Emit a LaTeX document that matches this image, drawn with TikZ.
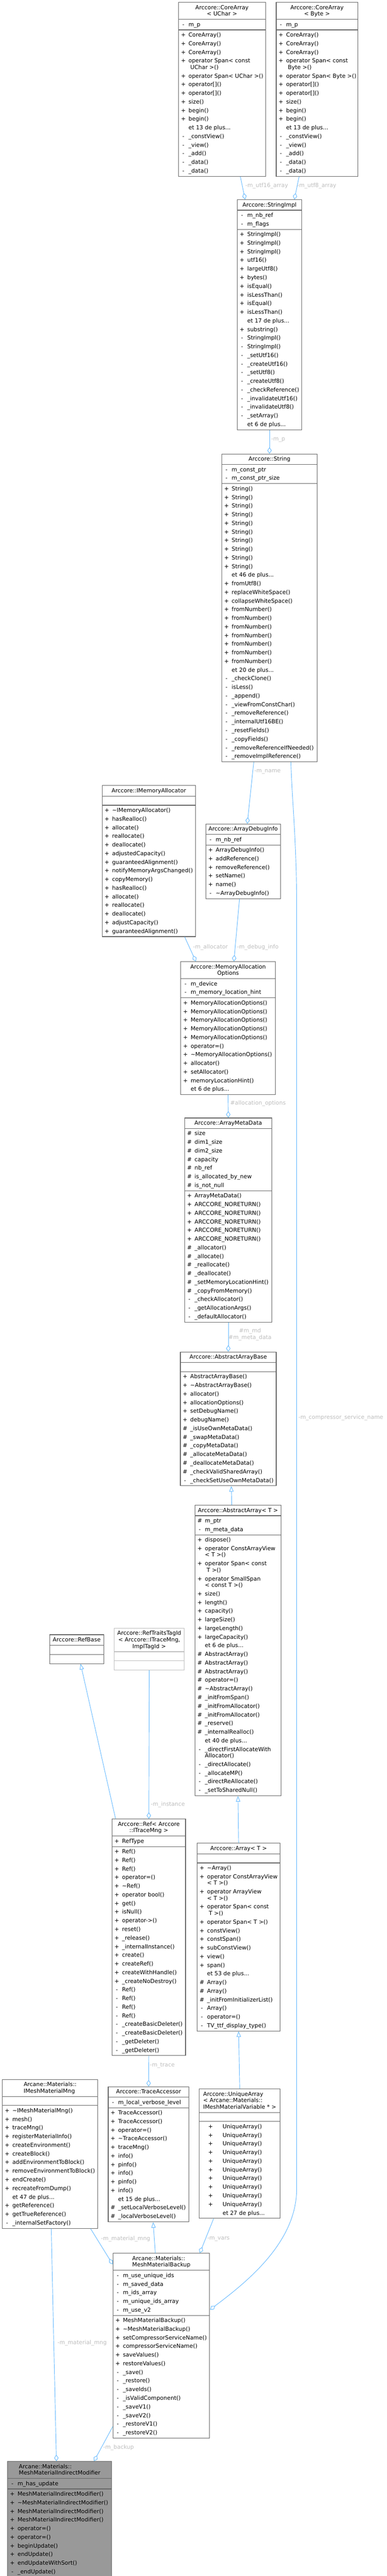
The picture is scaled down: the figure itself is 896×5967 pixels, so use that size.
\documentclass[tikz,border=0pt]{standalone}
\usepackage{fontspec}
\setmainfont{DejaVu Sans}
\usepackage{tikz}
\usetikzlibrary{arrows.meta}
\usetikzlibrary{shapes.multipart}

\definecolor{edgeblue}{HTML}{63B8FF}
\definecolor{boxgray}{HTML}{666666}
\definecolor{lblgray}{HTML}{BEBEBE}
\definecolor{fillgray}{HTML}{999999}
\definecolor{lightframe}{HTML}{BFBFBF}

\renewcommand{\arraystretch}{0}
\newcommand{\lnst}{\rule[-6pt]{0pt}{20pt}}
\newcommand{\cnst}{\rule[-6pt]{0pt}{15pt}}
\newcommand{\mem}[2]{\lnst\makebox[18pt][c]{#1}\hspace{3pt}#2}
\newcommand{\memw}[2]{\lnst\makebox[48pt][c]{#1}\hspace{4pt}#2}
\newcommand{\cont}[1]{\cnst\hspace{21pt}\smash{#1}}
\newcommand{\more}[1]{\lnst\hspace{21pt}et #1 de plus...}
\newcommand{\hd}[1]{\lnst #1}
\newcommand{\hc}[1]{\cnst\smash{#1}}
\newcommand{\emptypart}{\rule{0pt}{17pt}}
\newcommand{\rows}[1]{\begin{tabular}{@{}l@{}}#1\end{tabular}}
\newcommand{\hrows}[1]{\begin{tabular}{@{}c@{}}#1\end{tabular}}

\tikzset{
    cls/.style={rectangle split, rectangle split parts=3,
        rectangle split part align={center,left,left},
        draw=boxgray, line width=1.3pt, fill=white, text=black,
        inner xsep=2pt, inner ysep=1.5pt, anchor=north west,
        font=\fontsize{13pt}{20pt}\selectfont},
    agg/.style={draw=edgeblue, line width=1.1pt, -{Diamond[open,length=15pt,width=10pt]}},
    inh/.style={draw=edgeblue, line width=1.1pt, -{Triangle[open,length=13pt,width=10pt]}},
    lbl/.style={text=lblgray, inner sep=0pt, anchor=west,
        font=\fontsize{13pt}{15pt}\selectfont}
}

\begin{document}
\begin{tikzpicture}[x=1pt,y=-1pt]
        \useasboundingbox (0,0) rectangle (896,5967);

        \node[cls, minimum width=201pt] (coreuchar) at (413,5)
            {\hrows{\hd{Arccore::CoreArray}\\\hc{< UChar >}}
            \nodepart{two}\rows{\mem{-}{m\_p}}
            \nodepart{three}\rows{\mem{+}{CoreArray()}\\\mem{+}{CoreArray()}\\\mem{+}{CoreArray()}\\\mem{+}{operator Span< const}\\\cont{\ UChar >()}\\\mem{+}{operator Span< UChar >()}\\\mem{+}{operator[]()}\\\mem{+}{operator[]()}\\\mem{+}{size()}\\\mem{+}{begin()}\\\mem{+}{begin()}\\\more{13}\\\mem{-}{\_constView()}\\\mem{-}{\_view()}\\\mem{-}{\_add()}\\\mem{-}{\_data()}\\\mem{-}{\_data()}}};
        \node[cls, minimum width=189pt] (corebyte) at (639,5)
            {\hrows{\hd{Arccore::CoreArray}\\\hc{< Byte >}}
            \nodepart{two}\rows{\mem{-}{m\_p}}
            \nodepart{three}\rows{\mem{+}{CoreArray()}\\\mem{+}{CoreArray()}\\\mem{+}{CoreArray()}\\\mem{+}{operator Span< const}\\\cont{\ Byte >()}\\\mem{+}{operator Span< Byte >()}\\\mem{+}{operator[]()}\\\mem{+}{operator[]()}\\\mem{+}{size()}\\\mem{+}{begin()}\\\mem{+}{begin()}\\\more{13}\\\mem{-}{\_constView()}\\\mem{-}{\_view()}\\\mem{-}{\_add()}\\\mem{-}{\_data()}\\\mem{-}{\_data()}}};
        \node[cls, minimum width=149pt] (stringimpl) at (549,462)
            {\hrows{\hd{Arccore::StringImpl}}
            \nodepart{two}\rows{\mem{-}{m\_nb\_ref}\\\mem{-}{m\_flags}}
            \nodepart{three}\rows{\mem{+}{StringImpl()}\\\mem{+}{StringImpl()}\\\mem{+}{StringImpl()}\\\mem{+}{utf16()}\\\mem{+}{largeUtf8()}\\\mem{+}{bytes()}\\\mem{+}{isEqual()}\\\mem{+}{isLessThan()}\\\mem{+}{isEqual()}\\\mem{+}{isLessThan()}\\\more{17}\\\mem{+}{substring()}\\\mem{-}{StringImpl()}\\\mem{-}{StringImpl()}\\\mem{-}{\_setUtf16()}\\\mem{-}{\_createUtf16()}\\\mem{-}{\_setUtf8()}\\\mem{-}{\_createUtf8()}\\\mem{-}{\_checkReference()}\\\mem{-}{\_invalidateUtf16()}\\\mem{-}{\_invalidateUtf8()}\\\mem{-}{\_setArray()}\\\more{6}}};
        \node[cls, minimum width=221pt] (string) at (513,1051)
            {\hrows{\hd{Arccore::String}}
            \nodepart{two}\rows{\mem{-}{m\_const\_ptr}\\\mem{-}{m\_const\_ptr\_size}}
            \nodepart{three}\rows{\mem{+}{String()}\\\mem{+}{String()}\\\mem{+}{String()}\\\mem{+}{String()}\\\mem{+}{String()}\\\mem{+}{String()}\\\mem{+}{String()}\\\mem{+}{String()}\\\mem{+}{String()}\\\mem{+}{String()}\\\more{46}\\\mem{+}{fromUtf8()}\\\mem{+}{replaceWhiteSpace()}\\\mem{+}{collapseWhiteSpace()}\\\mem{+}{fromNumber()}\\\mem{+}{fromNumber()}\\\mem{+}{fromNumber()}\\\mem{+}{fromNumber()}\\\mem{+}{fromNumber()}\\\mem{+}{fromNumber()}\\\mem{+}{fromNumber()}\\\more{20}\\\mem{-}{\_checkClone()}\\\mem{-}{isLess()}\\\mem{-}{\_append()}\\\mem{-}{\_viewFromConstChar()}\\\mem{-}{\_removeReference()}\\\mem{-}{\_internalUtf16BE()}\\\mem{-}{\_resetFields()}\\\mem{-}{\_copyFields()}\\\mem{-}{\_removeReferenceIfNeeded()}\\\mem{-}{\_removeImplReference()}}};
        \node[cls, minimum width=216pt] (imemalloc) at (236,1819)
            {\hrows{\hd{Arccore::IMemoryAllocator}}
            \nodepart{two}\emptypart
            \nodepart{three}\rows{\mem{+}{\textasciitilde IMemoryAllocator()}\\\mem{+}{hasRealloc()}\\\mem{+}{allocate()}\\\mem{+}{reallocate()}\\\mem{+}{deallocate()}\\\mem{+}{adjustedCapacity()}\\\mem{+}{guaranteedAlignment()}\\\mem{+}{notifyMemoryArgsChanged()}\\\mem{+}{copyMemory()}\\\mem{+}{hasRealloc()}\\\mem{+}{allocate()}\\\mem{+}{reallocate()}\\\mem{+}{deallocate()}\\\mem{+}{adjustCapacity()}\\\mem{+}{guaranteedAlignment()}}};
        \node[cls, minimum width=173pt] (debuginfo) at (476,1908)
            {\hrows{\hd{Arccore::ArrayDebugInfo}}
            \nodepart{two}\rows{\mem{-}{m\_nb\_ref}}
            \nodepart{three}\rows{\mem{+}{ArrayDebugInfo()}\\\mem{+}{addReference()}\\\mem{+}{removeReference()}\\\mem{+}{setName()}\\\mem{+}{name()}\\\mem{-}{\textasciitilde ArrayDebugInfo()}}};
        \node[cls, minimum width=219pt] (allocopts) at (418,2227)
            {\hrows{\hd{Arccore::MemoryAllocation}\\\hc{Options}}
            \nodepart{two}\rows{\mem{-}{m\_device}\\\mem{-}{m\_memory\_location\_hint}}
            \nodepart{three}\rows{\mem{+}{MemoryAllocationOptions()}\\\mem{+}{MemoryAllocationOptions()}\\\mem{+}{MemoryAllocationOptions()}\\\mem{+}{MemoryAllocationOptions()}\\\mem{+}{MemoryAllocationOptions()}\\\mem{+}{operator=()}\\\mem{+}{\textasciitilde MemoryAllocationOptions()}\\\mem{+}{allocator()}\\\mem{+}{setAllocator()}\\\mem{+}{memoryLocationHint()}\\\more{6}}};
        \node[cls, minimum width=202pt] (metadata) at (427,2589)
            {\hrows{\hd{Arccore::ArrayMetaData}}
            \nodepart{two}\rows{\mem{\#}{size}\\\mem{\#}{dim1\_size}\\\mem{\#}{dim2\_size}\\\mem{\#}{capacity}\\\mem{\#}{nb\_ref}\\\mem{\#}{is\_allocated\_by\_new}\\\mem{\#}{is\_not\_null}}
            \nodepart{three}\rows{\mem{+}{ArrayMetaData()}\\\mem{+}{ARCCORE\_NORETURN()}\\\mem{+}{ARCCORE\_NORETURN()}\\\mem{+}{ARCCORE\_NORETURN()}\\\mem{+}{ARCCORE\_NORETURN()}\\\mem{+}{ARCCORE\_NORETURN()}\\\mem{\#}{\_allocator()}\\\mem{\#}{\_allocate()}\\\mem{\#}{\_reallocate()}\\\mem{\#}{\_deallocate()}\\\mem{\#}{\_setMemoryLocationHint()}\\\mem{\#}{\_copyFromMemory()}\\\mem{-}{\_checkAllocator()}\\\mem{-}{\_getAllocationArgs()}\\\mem{-}{\_defaultAllocator()}}};
        \node[cls, minimum width=222pt] (arraybase) at (417,3131)
            {\hrows{\hd{Arccore::AbstractArrayBase}}
            \nodepart{two}\emptypart
            \nodepart{three}\rows{\mem{+}{AbstractArrayBase()}\\\mem{+}{\textasciitilde AbstractArrayBase()}\\\mem{+}{allocator()}\\\mem{+}{allocationOptions()}\\\mem{+}{setDebugName()}\\\mem{+}{debugName()}\\\mem{\#}{\_isUseOwnMetaData()}\\\mem{\#}{\_swapMetaData()}\\\mem{\#}{\_copyMetaData()}\\\mem{\#}{\_allocateMetaData()}\\\mem{\#}{\_deallocateMetaData()}\\\mem{\#}{\_checkValidSharedArray()}\\\mem{-}{\_checkSetUseOwnMetaData()}}};
        \node[cls, minimum width=199pt] (abstractarray) at (451,3486)
            {\hrows{\hd{Arccore::AbstractArray< T >}}
            \nodepart{two}\rows{\mem{\#}{m\_ptr}\\\mem{-}{m\_meta\_data}}
            \nodepart{three}\rows{\mem{+}{dispose()}\\\mem{+}{operator ConstArrayView}\\\cont{< T >()}\\\mem{+}{operator Span< const}\\\cont{\ T >()}\\\mem{+}{operator SmallSpan}\\\cont{< const T >()}\\\mem{+}{size()}\\\mem{+}{length()}\\\mem{+}{capacity()}\\\mem{+}{largeSize()}\\\mem{+}{largeLength()}\\\mem{+}{largeCapacity()}\\\more{6}\\\mem{\#}{AbstractArray()}\\\mem{\#}{AbstractArray()}\\\mem{\#}{AbstractArray()}\\\mem{\#}{operator=()}\\\mem{\#}{\textasciitilde AbstractArray()}\\\mem{\#}{\_initFromSpan()}\\\mem{\#}{\_initFromAllocator()}\\\mem{\#}{\_initFromAllocator()}\\\mem{\#}{\_reserve()}\\\mem{\#}{\_internalRealloc()}\\\more{40}\\\mem{-}{\_directFirstAllocateWith}\\\cont{Allocator()}\\\mem{-}{\_directAllocate()}\\\mem{-}{\_allocateMP()}\\\mem{-}{\_directReAllocate()}\\\mem{-}{\_setToSharedNull()}}};
        \node[cls, minimum width=126pt] (refbase) at (114,3786)
            {\hrows{\hd{Arccore::RefBase}}
            \nodepart{two}\emptypart
            \nodepart{three}\emptypart};
        \node[cls, minimum width=162pt, draw=lightframe] (reftraits) at (264,3771)
            {\hrows{\hd{Arccore::RefTraitsTagId}\\\hc{< Arccore::ITraceMng,}\\\hc{ImplTagId >}}
            \nodepart{two}\emptypart
            \nodepart{three}\emptypart};
        \node[cls, minimum width=170pt] (ref) at (259,4213)
            {\hrows{\hd{Arccore::Ref< Arccore}\\\hc{::ITraceMng >}}
            \nodepart{two}\rows{\mem{+}{RefType}}
            \nodepart{three}\rows{\mem{+}{Ref()}\\\mem{+}{Ref()}\\\mem{+}{Ref()}\\\mem{+}{operator=()}\\\mem{+}{\textasciitilde Ref()}\\\mem{+}{operator bool()}\\\mem{+}{get()}\\\mem{+}{isNull()}\\\mem{+}{operator->()}\\\mem{+}{reset()}\\\mem{+}{\_release()}\\\mem{+}{\_internalInstance()}\\\mem{+}{create()}\\\mem{+}{createRef()}\\\mem{+}{createWithHandle()}\\\mem{+}{\_createNoDestroy()}\\\mem{-}{Ref()}\\\mem{-}{Ref()}\\\mem{-}{Ref()}\\\mem{-}{Ref()}\\\mem{-}{\_createBasicDeleter()}\\\mem{-}{\_createBasicDeleter()}\\\mem{-}{\_getDeleter()}\\\mem{-}{\_getDeleter()}}};
        \node[cls, minimum width=192pt] (array) at (456,4269)
            {\hrows{\hd{Arccore::Array< T >}}
            \nodepart{two}\emptypart
            \nodepart{three}\rows{\mem{+}{\textasciitilde Array()}\\\mem{+}{operator ConstArrayView}\\\cont{< T >()}\\\mem{+}{operator ArrayView}\\\cont{< T >()}\\\mem{+}{operator Span< const}\\\cont{\ T >()}\\\mem{+}{operator Span< T >()}\\\mem{+}{constView()}\\\mem{+}{constSpan()}\\\mem{+}{subConstView()}\\\mem{+}{view()}\\\mem{+}{span()}\\\more{53}\\\mem{\#}{Array()}\\\mem{\#}{Array()}\\\mem{\#}{\_initFromInitializerList()}\\\mem{-}{Array()}\\\mem{-}{operator=()}\\\mem{-}{TV\_ttf\_display\_type()}}};
        \node[cls, minimum width=221pt] (imeshmatmng) at (5,4816)
            {\rows{\hd{Arcane::Materials::}\\\hc{IMeshMaterialMng}}
            \nodepart{two}\emptypart
            \nodepart{three}\rows{\mem{+}{\textasciitilde IMeshMaterialMng()}\\\mem{+}{mesh()}\\\mem{+}{traceMng()}\\\mem{+}{registerMaterialInfo()}\\\mem{+}{createEnvironment()}\\\mem{+}{createBlock()}\\\mem{+}{addEnvironmentToBlock()}\\\mem{+}{removeEnvironmentToBlock()}\\\mem{+}{endCreate()}\\\mem{+}{recreateFromDump()}\\\more{47}\\\mem{+}{getReference()}\\\mem{+}{getTrueReference()}\\\mem{-}{\_internalSetFactory()}}};
        \node[cls, minimum width=187pt] (traceacc) at (250,4833)
            {\hrows{\hd{Arccore::TraceAccessor}}
            \nodepart{two}\rows{\mem{-}{m\_local\_verbose\_level}}
            \nodepart{three}\rows{\mem{+}{TraceAccessor()}\\\mem{+}{TraceAccessor()}\\\mem{+}{operator=()}\\\mem{+}{\textasciitilde TraceAccessor()}\\\mem{+}{traceMng()}\\\mem{+}{info()}\\\mem{+}{pinfo()}\\\mem{+}{info()}\\\mem{+}{pinfo()}\\\mem{+}{info()}\\\more{15}\\\mem{\#}{\_setLocalVerboseLevel()}\\\mem{\#}{\_localVerboseLevel()}}};
        \node[cls, minimum width=187pt] (uniquearray) at (461,4838)
            {\rows{\hd{Arccore::UniqueArray}\\\hc{< Arcane::Materials::}\\\hc{IMeshMaterialVariable * >}}
            \nodepart{two}\emptypart
            \nodepart{three}\rows{\memw{+}{UniqueArray()}\\\memw{+}{UniqueArray()}\\\memw{+}{UniqueArray()}\\\memw{+}{UniqueArray()}\\\memw{+}{UniqueArray()}\\\memw{+}{UniqueArray()}\\\memw{+}{UniqueArray()}\\\memw{+}{UniqueArray()}\\\memw{+}{UniqueArray()}\\\memw{+}{UniqueArray()}\\\memw{}{et 27 de plus...}}};
        \node[cls, minimum width=224pt] (backup) at (261,5219)
            {\rows{\hd{Arcane::Materials::}\\\hc{MeshMaterialBackup}}
            \nodepart{two}\rows{\mem{-}{m\_use\_unique\_ids}\\\mem{-}{m\_saved\_data}\\\mem{-}{m\_ids\_array}\\\mem{-}{m\_unique\_ids\_array}\\\mem{-}{m\_use\_v2}}
            \nodepart{three}\rows{\mem{+}{MeshMaterialBackup()}\\\mem{+}{\textasciitilde MeshMaterialBackup()}\\\mem{+}{setCompressorServiceName()}\\\mem{+}{compressorServiceName()}\\\mem{+}{saveValues()}\\\mem{+}{restoreValues()}\\\mem{-}{\_save()}\\\mem{-}{\_restore()}\\\mem{-}{\_saveIds()}\\\mem{-}{\_isValidComponent()}\\\mem{-}{\_saveV1()}\\\mem{-}{\_saveV2()}\\\mem{-}{\_restoreV1()}\\\mem{-}{\_restoreV2()}}};
        \node[cls, minimum width=241pt, fill=fillgray] (modifier) at (17,5701)
            {\rows{\hd{Arcane::Materials::}\\\hc{MeshMaterialIndirectModifier}}
            \nodepart{two}\rows{\mem{-}{m\_has\_update}}
            \nodepart{three}\rows{\mem{+}{MeshMaterialIndirectModifier()}\\\mem{+}{\textasciitilde MeshMaterialIndirectModifier()}\\\mem{+}{MeshMaterialIndirectModifier()}\\\mem{+}{MeshMaterialIndirectModifier()}\\\mem{+}{operator=()}\\\mem{+}{operator=()}\\\mem{+}{beginUpdate()}\\\mem{+}{endUpdate()}\\\mem{+}{endUpdateWithSort()}\\\mem{-}{\_endUpdate()}}};

        \draw[agg] ([xshift=42.5pt]coreuchar.south) -- ([xshift=-56.5pt]stringimpl.north);
        \draw[agg] ([xshift=-41.5pt]corebyte.south) -- ([xshift=57.5pt]stringimpl.north);
        \draw[agg] (stringimpl.south) -- (string.north);
        \draw[agg] ([xshift=-36.5pt]string.south) -- ([xshift=9.5pt]debuginfo.north);
        \draw[agg] ([xshift=49.5pt]string.south) .. controls (676,1850) and (687,1950) .. (687,2100)
            -- (687,5070) .. controls (687,5190) and (580,5280) .. ([yshift=-131pt]backup.north east);
        \draw[agg] ([xshift=83pt]imemalloc.south) -- ([xshift=-74.5pt]allocopts.north);
        \draw[agg] ([xshift=-8.5pt]debuginfo.south) -- ([xshift=13.5pt]allocopts.north);
        \draw[agg] (allocopts.south) -- (metadata.north);
        \draw[agg] (metadata.south) -- (arraybase.north);
        \draw[inh] ([xshift=-14.5pt]abstractarray.north) -- ([xshift=7pt]arraybase.south);
        \draw[inh] (array.north) -- (abstractarray.south);
        \draw[inh] ([xshift=-77pt]ref.north) -- ([xshift=9pt]refbase.south);
        \draw[agg] (reftraits.south) -- (ref.north);
        \draw[agg] (ref.south) -- (traceacc.north);
        \draw[inh] (uniquearray.north) -- (array.south);
        \draw[agg] ([xshift=93.5pt]imeshmatmng.south) -- ([yshift=-26pt]backup.north west);
        \draw[inh] ([xshift=-14pt]backup.north) -- ([xshift=10.5pt]traceacc.south);
        \draw[agg] ([xshift=-60.5pt]uniquearray.south) -- ([xshift=89pt]backup.north);
        \draw[agg] ([xshift=2.5pt]imeshmatmng.south) -- ([xshift=-7.5pt]modifier.north);
        \draw[agg] ([yshift=-402pt]backup.north west) -- ([xshift=79.5pt]modifier.north);

        \node[lbl] (lutf16) at (568,430) {-m\_utf16\_array};
        \node[lbl] (lutf8) at (688,430) {-m\_utf8\_array};
        \node[lbl] (lmp) at (628,1019) {-m\_p};
        \node[lbl] (lname) at (589,1787) {-m\_name};
        \node[lbl] (lcomp) at (691,3284) {-m\_compressor\_service\_name};
        \node[lbl] (lalloc) at (447,2194) {-m\_allocator};
        \node[lbl] (ldebug) at (549,2194) {-m\_debug\_info};
        \node[lbl] (lopts) at (533,2556) {\#allocation\_options};
        \node[lbl, anchor=center, align=center] (lmd) at (579,3091) {\#m\_md\\\#m\_meta\_data};
        \node[lbl] (linst) at (349,4180) {-m\_instance};
        \node[lbl] (ltrace) at (347,4784) {-m\_trace};
        \node[lbl] (lmatmng) at (234,5186) {-m\_material\_mng};
        \node[lbl] (lvars) at (480,5186) {-m\_vars};
        \node[lbl] (lmatmngb) at (133,5427) {-m\_material\_mng};
        \node[lbl] (lbackup) at (239,5669) {-m\_backup};
\end{tikzpicture}
\end{document}
